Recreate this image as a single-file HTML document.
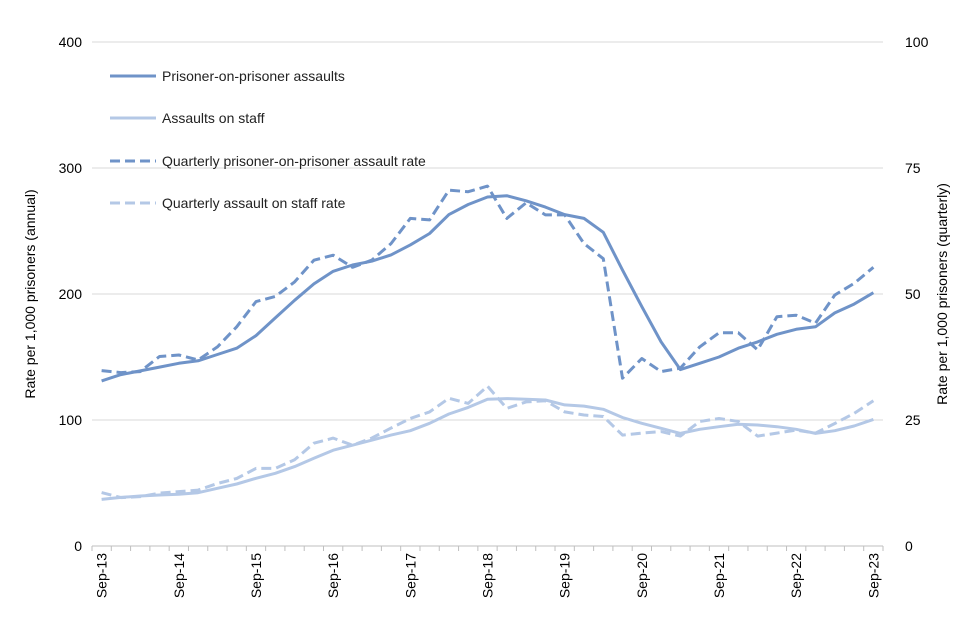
<!DOCTYPE html>
<html><head><meta charset="utf-8"><style>
html,body{margin:0;padding:0;background:#fff;}
svg{display:block;font-family:"Liberation Sans",Arial,sans-serif;}
</style></head><body>
<svg id="chart" width="960" height="640">
<g id="grid"></g>
<g id="axes"></g>
<g id="series"></g>
<text transform="translate(35,294) rotate(-90)" text-anchor="middle" font-size="14" fill="#000">Rate per 1,000 prisoners (annual)</text>
<text transform="translate(947,294) rotate(-90)" text-anchor="middle" font-size="14" fill="#000">Rate per 1,000 prisoners (quarterly)</text>
<g>
<g><line x1="110" y1="76" x2="156" y2="76" stroke="#6f93c8" stroke-width="3"/><text x="162" y="81" font-size="14" fill="#222">Prisoner-on-prisoner assaults</text></g>
<g><line x1="110" y1="118" x2="156" y2="118" stroke="#b4c8e6" stroke-width="3"/><text x="162" y="123" font-size="14" fill="#222">Assaults on staff</text></g>
<g><line x1="110" y1="161" x2="156" y2="161" stroke="#6f93c8" stroke-width="3" stroke-dasharray="10,5"/><text x="162" y="166" font-size="14" fill="#222">Quarterly prisoner-on-prisoner assault rate</text></g>
<g><line x1="110" y1="203" x2="156" y2="203" stroke="#b4c8e6" stroke-width="3" stroke-dasharray="10,5"/><text x="162" y="208" font-size="14" fill="#222">Quarterly assault on staff rate</text></g>
</g>
</svg>
<script>
const xLabels=["Sep-13","Sep-14","Sep-15","Sep-16","Sep-17","Sep-18","Sep-19","Sep-20","Sep-21","Sep-22","Sep-23"];
const leftTicks=[0,100,200,300,400];
const rightTicks=[0,25,50,75,100];
const annualPrisoner=[131,136,139,142,145,147,152,157,167,181,195,208,218,223,226,231,239,248,263,271,277,278,274,269,263,260,249,219,190,162,140,145,150,157,162,168,172,174,185,192,201];
const annualStaff=[37,38.6,39.7,40.5,41,42.3,45.8,49.2,53.7,57.7,63,69.6,76,80,84,88,91.5,97.4,104.8,110,116.4,117,116.4,115.9,112,111,108.5,102,97.4,93.4,89.4,92.6,94.7,96.6,96,94.7,92.6,89.4,91.5,95.2,100.5];
const quarterlyPrisoner=[34.8,34.4,34.6,37.6,37.9,36.9,39.5,43.5,48.5,49.5,52.4,56.7,57.7,55.3,56.7,60,65,64.7,70.6,70.3,71.4,65,68.1,65.7,65.7,60,57,33.3,37.2,34.6,35.3,39.5,42.3,42.3,38.9,45.5,45.8,44.2,49.8,52.1,55.3];
const quarterlyStaff=[10.6,9.6,9.8,10.5,10.8,11.1,12.4,13.4,15.4,15.4,17.1,20.4,21.4,20,21.4,23.4,25.3,26.6,29.3,28.3,31.7,27.3,28.6,28.8,26.6,26,25.7,22,22.4,22.7,21.8,24.7,25.3,24.7,21.8,22.4,23,22.4,24.3,26.3,28.8];

const NS="http://www.w3.org/2000/svg";
const x0=92,x1=883,y0=546,yTop=42;
const n=annualPrisoner.length;
const bw=(x1-x0)/n;
const xAt=i=>x0+bw*(i+0.5);
const yL=v=>y0-(v/400)*(y0-yTop);
const yR=v=>y0-(v/100)*(y0-yTop);
function mk(tag,attrs,parent){const e=document.createElementNS(NS,tag);for(const k in attrs)e.setAttribute(k,attrs[k]);parent.appendChild(e);return e;}
const grid=document.getElementById('grid'),axes=document.getElementById('axes'),ser=document.getElementById('series');
leftTicks.forEach((t,k)=>{
  if(t>0){const g=mk('line',{x1:x0,x2:x1,y1:yL(t),y2:yL(t),stroke:'#d9d9d9','stroke-width':1},grid);
  
  }
  const tx=mk('text',{x:x0-10,y:yL(t)+5,'text-anchor':'end','font-size':14,fill:'#000'},axes);tx.textContent=t;
  
  
});
rightTicks.forEach(t=>{
  const tx=mk('text',{x:x1+22,y:yR(t)+5,'text-anchor':'start','font-size':14,fill:'#000'},axes);tx.textContent=t;
  
  
});
const ax=mk('line',{x1:x0,x2:x1,y1:y0,y2:y0,stroke:'#bfbfbf','stroke-width':1},axes);


for(let i=0;i<=n;i++){const tk=mk('line',{x1:x0+bw*i,x2:x0+bw*i,y1:y0,y2:y0+5,stroke:'#bfbfbf'},axes);
  
  }
xLabels.forEach((l,k)=>{
  const x=xAt(k*4);
  const tx=mk('text',{transform:`translate(${x+5},553) rotate(-90)`,'text-anchor':'end','font-size':14,fill:'#000'},axes);tx.textContent=l;
  
  
});
function line(arr,yf,color,dash,name){
  const d=arr.map((v,i)=>(i?'L':'M')+xAt(i).toFixed(1)+','+yf(v).toFixed(1)).join(' ');
  const p=mk('path',{d:d,fill:'none',stroke:color,'stroke-width':3,'stroke-linejoin':'round'},ser);
  if(dash)p.setAttribute('stroke-dasharray','10,5');
  
  
}
line(annualStaff,yL,'#b4c8e6',false,'line-staff-assaults');
line(quarterlyStaff,yR,'#b4c8e6',true,'line-quarterly-staff-rate');
line(annualPrisoner,yL,'#6f93c8',false,'line-prisoner-assaults');
line(quarterlyPrisoner,yR,'#6f93c8',true,'line-quarterly-prisoner-rate');
</script>
</body></html>
